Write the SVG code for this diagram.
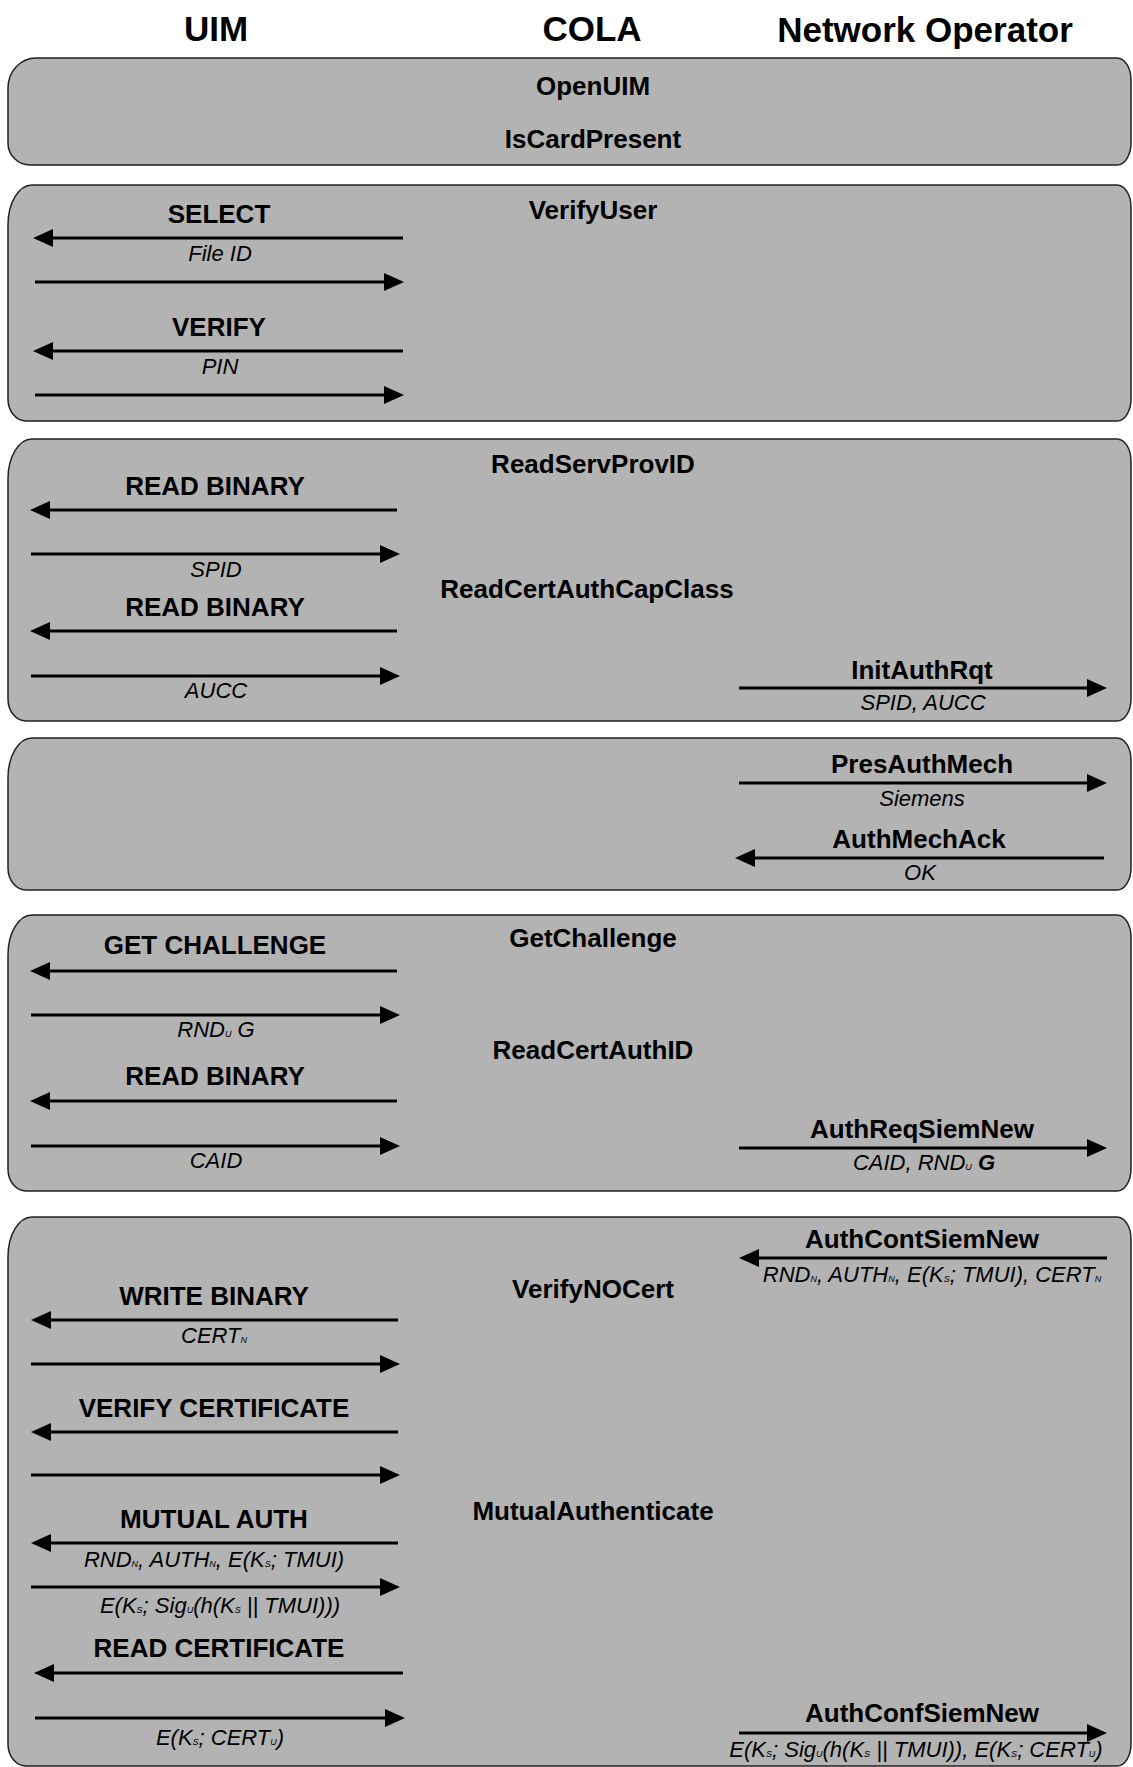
<svg xmlns="http://www.w3.org/2000/svg" width="1133" height="1767" viewBox="0 0 1133 1767">
  <defs>
    <marker id="ah" viewBox="0 0 20 18" markerWidth="20" markerHeight="18" markerUnits="userSpaceOnUse" refX="10" refY="9" orient="auto">
      <path d="M0,0 L20,9 L0,18 Z" fill="#000"/>
    </marker>
    <style>
      .box { fill: #b3b3b3; stroke: #222; stroke-width: 1.5; }
      .hdr { font: bold 35px "Liberation Sans", Arial, sans-serif; text-anchor: middle; fill: #000; }
      .lbl { font: bold 26px "Liberation Sans", Arial, sans-serif; text-anchor: middle; fill: #000; }
      .sub { font: italic 22px "Liberation Sans", Arial, sans-serif; text-anchor: middle; fill: #000; }
      .s { font-size: 9px; }
      .b { font-weight: bold; }
      .msg { fill: none; stroke: #000; stroke-width: 3; marker-end: url(#ah); }
    </style>
  </defs>

  <rect width="1133" height="1767" fill="#fff"/>

  <!-- column headers -->
  <g id="headers">
    <text class="hdr" x="216" y="41">UIM</text>
    <text class="hdr" x="592" y="41">COLA</text>
    <text class="hdr" x="925" y="42">Network Operator</text>
  </g>

  <!-- phase panels -->
  <g id="phase-open">
    <path class="box" d="M36,58 H1117 A14,22 0 0 1 1131,80 V143 A14,22 0 0 1 1117,165 H30 A22,22 0 0 1 8,143 V88 A28,30 0 0 1 36,58 Z"/>
    <text class="lbl" x="593" y="95">OpenUIM</text>
    <text class="lbl" x="593" y="148">IsCardPresent</text>
  </g>

  <g id="phase-verify-user">
    <path class="box" d="M32,185 H1117 A14,22 0 0 1 1131,207 V399 A14,22 0 0 1 1117,421 H26 A18,22 0 0 1 8,399 V225 A24,40 0 0 1 32,185 Z"/>
    <text class="lbl" x="593" y="219">VerifyUser</text>
    <text class="lbl" x="219" y="223">SELECT</text>
    <text class="sub" x="220" y="261">File ID</text>
    <text class="lbl" x="219" y="336">VERIFY</text>
    <text class="sub" x="220" y="374">PIN</text>
  </g>

  <g id="phase-read-ids">
    <path class="box" d="M32,439 H1117 A14,22 0 0 1 1131,461 V699 A14,22 0 0 1 1117,721 H26 A18,22 0 0 1 8,699 V479 A24,40 0 0 1 32,439 Z"/>
    <text class="lbl" x="593" y="473">ReadServProvID</text>
    <text class="lbl" x="215" y="495">READ BINARY</text>
    <text class="sub" x="216" y="577">SPID</text>
    <text class="lbl" x="215" y="616">READ BINARY</text>
    <text class="sub" x="216" y="698">AUCC</text>
    <text class="lbl" x="587" y="598">ReadCertAuthCapClass</text>
    <text class="lbl" x="922" y="679">InitAuthRqt</text>
    <text class="sub" x="923" y="710">SPID, AUCC</text>
  </g>

  <g id="phase-mechanism">
    <path class="box" d="M32,738 H1117 A14,22 0 0 1 1131,760 V868 A14,22 0 0 1 1117,890 H26 A18,22 0 0 1 8,868 V778 A24,40 0 0 1 32,738 Z"/>
    <text class="lbl" x="922" y="773">PresAuthMech</text>
    <text class="sub" x="922" y="806">Siemens</text>
    <text class="lbl" x="919" y="848">AuthMechAck</text>
    <text class="sub" x="920" y="880">OK</text>
  </g>

  <g id="phase-challenge">
    <path class="box" d="M32,915 H1117 A14,22 0 0 1 1131,937 V1169 A14,22 0 0 1 1117,1191 H26 A18,22 0 0 1 8,1169 V955 A24,40 0 0 1 32,915 Z"/>
    <text class="lbl" x="593" y="947">GetChallenge</text>
    <text class="lbl" x="215" y="954">GET CHALLENGE</text>
    <text class="sub" x="216" y="1037">RND<tspan class="s">U</tspan> G</text>
    <text class="lbl" x="215" y="1085">READ BINARY</text>
    <text class="sub" x="216" y="1168">CAID</text>
    <text class="lbl" x="593" y="1059">ReadCertAuthID</text>
    <text class="lbl" x="922" y="1138">AuthReqSiemNew</text>
    <text class="sub" x="924" y="1170">CAID, RND<tspan class="s">U</tspan> <tspan class="b">G</tspan></text>
  </g>

  <g id="phase-mutual-auth">
    <path class="box" d="M32,1217 H1117 A14,22 0 0 1 1131,1239 V1744 A14,22 0 0 1 1117,1766 H26 A18,22 0 0 1 8,1744 V1257 A24,40 0 0 1 32,1217 Z"/>
    <text class="lbl" x="922" y="1248">AuthContSiemNew</text>
    <text class="sub" x="932" y="1282">RND<tspan class="s">N</tspan>, AUTH<tspan class="s">N</tspan>, E(K<tspan class="s">S</tspan>; TMUI), CERT<tspan class="s">N</tspan></text>
    <text class="lbl" x="593" y="1298">VerifyNOCert</text>
    <text class="lbl" x="214" y="1305">WRITE BINARY</text>
    <text class="sub" x="214" y="1343">CERT<tspan class="s">N</tspan></text>
    <text class="lbl" x="214" y="1417">VERIFY CERTIFICATE</text>
    <text class="lbl" x="593" y="1520">MutualAuthenticate</text>
    <text class="lbl" x="214" y="1528">MUTUAL AUTH</text>
    <text class="sub" x="214" y="1567">RND<tspan class="s">N</tspan>, AUTH<tspan class="s">N</tspan>, E(K<tspan class="s">S</tspan>; TMUI)</text>
    <text class="sub" x="220" y="1613">E(K<tspan class="s">S</tspan>; Sig<tspan class="s">U</tspan>(h(K<tspan class="s">S</tspan> || TMUI)))</text>
    <text class="lbl" x="219" y="1657">READ CERTIFICATE</text>
    <text class="sub" x="220" y="1745">E(K<tspan class="s">S</tspan>; CERT<tspan class="s">U</tspan>)</text>
    <text class="lbl" x="922" y="1722">AuthConfSiemNew</text>
    <text class="sub" x="916" y="1757">E(K<tspan class="s">S</tspan>; Sig<tspan class="s">U</tspan>(h(K<tspan class="s">S</tspan> || TMUI)), E(K<tspan class="s">S</tspan>; CERT<tspan class="s">U</tspan>)</text>
  </g>

  <!-- message arrows -->
  <g id="connectors">
    <path class="msg" d="M403,238 H43"/>
    <path class="msg" d="M35,282 H394"/>
    <path class="msg" d="M403,351 H43"/>
    <path class="msg" d="M35,395 H394"/>

    <path class="msg" d="M397,510 H40"/>
    <path class="msg" d="M31,554 H390"/>
    <path class="msg" d="M397,631 H40"/>
    <path class="msg" d="M31,676 H390"/>
    <path class="msg" d="M739,688 H1097"/>

    <path class="msg" d="M739,783 H1097"/>
    <path class="msg" d="M1104,858 H745"/>

    <path class="msg" d="M397,971 H40"/>
    <path class="msg" d="M31,1015 H390"/>
    <path class="msg" d="M397,1101 H40"/>
    <path class="msg" d="M31,1146 H390"/>
    <path class="msg" d="M739,1148 H1097"/>

    <path class="msg" d="M1107,1258 H749"/>
    <path class="msg" d="M398,1320 H41"/>
    <path class="msg" d="M31,1364 H390"/>
    <path class="msg" d="M398,1432 H41"/>
    <path class="msg" d="M31,1475 H390"/>
    <path class="msg" d="M398,1543 H41"/>
    <path class="msg" d="M31,1587 H390"/>
    <path class="msg" d="M403,1673 H44"/>
    <path class="msg" d="M35,1718 H395"/>
    <path class="msg" d="M739,1733 H1097"/>
  </g>
</svg>
